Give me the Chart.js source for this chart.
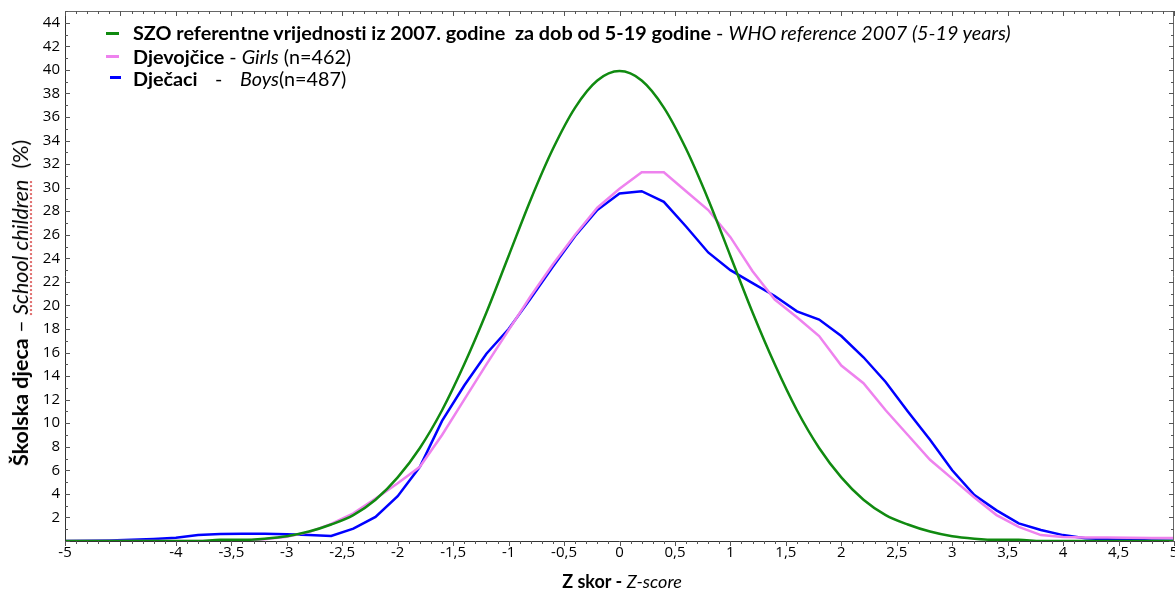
<!DOCTYPE html>
<html>
<head>
<meta charset="utf-8">
<script src="https://cdn.jsdelivr.net/npm/chart.js@4.4.1/dist/chart.umd.min.js"></script>
<style>
    body { margin: 0; background: #fff; }
    #wrap { position: relative; width: 1175px; height: 590px; }
    .txt { position: absolute; font-family: Lato, "Open Sans", sans-serif; font-size: 19.8px; color: #000; white-space: pre; line-height: 22px; font-variant-ligatures: none; }
    .sw { position: absolute; height: 3px; }
    .spell { text-decoration: underline dotted #e07070; text-underline-offset: 2px; }
</style>
</head>
<body>
<div id="wrap">
    <canvas id="zChart" width="1175" height="590"></canvas>

    <!-- legend -->
    <div class="sw" style="left:106px; top:32px; width:13px; background:#108a10;"></div>
    <div class="txt" style="left:133px; top:21px;"><b>SZO referentne vrijednosti iz 2007. godine  za dob od 5-19 godine</b> - <i>WHO reference 2007 (5-19 years)</i></div>
    <div class="sw" style="left:106px; top:55px; width:13px; background:#ee82ee;"></div>
    <div class="txt" style="left:133px; top:45px;"><b>Djevojčice</b> - <i>Girls</i> (n=462)</div>
    <div class="sw" style="left:110px; top:76px; width:11px; background:#0000ff;"></div>
    <div class="txt" style="left:133px; top:67px;"><b>Dječaci</b></div>
    <div class="txt" style="left:215px; top:67px;">-</div>
    <div class="txt" style="left:240px; top:67px;"><i>Boys</i>(n=487)</div>

    <!-- axis titles -->
    <div class="txt" style="left:20px; top:303px; font-size:21.5px; transform: translate(-50%, -50%) rotate(-90deg);"><b>Školska djeca</b> – <i class="spell">School children</i>  (%)</div>
    <div class="txt" style="left:622px; top:581px; font-size:18px; transform: translate(-50%, -50%);"><b>Z skor -</b> <i>Z-score</i></div>
</div>

<script>
// Z-score positions (every 0.2)
const zValues = [-5, -4.8, -4.6, -4.4, -4.2, -4, -3.8, -3.6, -3.4, -3.2,
    -3, -2.8, -2.6, -2.4, -2.2, -2, -1.8, -1.6, -1.4, -1.2,
    -1, -0.8, -0.6, -0.4, -0.2, 0, 0.2, 0.4, 0.6, 0.8,
    1, 1.2, 1.4, 1.6, 1.8, 2, 2.2, 2.4, 2.6, 2.8,
    3, 3.2, 3.4, 3.6, 3.8, 4, 4.2, 4.4, 4.6, 4.8, 5];

// WHO reference 2007 (%)
const whoRef = [0, 0, 0, 0, 0, 0, 0, 0.1, 0.1, 0.2,
    0.4, 0.8, 1.4, 2.2, 3.5, 5.4, 7.9, 11.1, 15.0, 19.4,
    24.2, 29.0, 33.3, 36.8, 39.1, 39.9, 39.1, 36.8, 33.3, 29.0,
    24.2, 19.4, 15.0, 11.1, 7.9, 5.4, 3.5, 2.2, 1.4, 0.8,
    0.4, 0.2, 0.1, 0.1, 0, 0, 0, 0, 0, 0, 0];

// Girls, n=462 (%)
const girls = [0, 0, 0, 0, 0, 0, 0, 0, 0.05, 0.15,
    0.37, 0.75, 1.45, 2.35, 3.6, 4.9, 6.3, 9.0, 12.0, 15.0,
    17.9, 20.8, 23.5, 26.0, 28.3, 29.9, 31.3, 31.3, 29.7, 28.1,
    25.8, 22.9, 20.5, 19.0, 17.4, 14.9, 13.4, 11.1, 9.0, 6.9,
    5.3, 3.7, 2.2, 1.2, 0.5, 0.35, 0.3, 0.3, 0.28, 0.25, 0.25];

// Boys, n=487 (%)
const boys = [0, 0.02, 0.05, 0.1, 0.17, 0.28, 0.5, 0.6, 0.62, 0.62,
    0.57, 0.5, 0.42, 1.05, 2.05, 3.8, 6.3, 10.2, 13.2, 15.9,
    18.0, 20.6, 23.3, 25.9, 28.1, 29.5, 29.7, 28.8, 26.7, 24.5,
    23.0, 21.9, 20.8, 19.5, 18.8, 17.4, 15.6, 13.5, 11.0, 8.6,
    6.0, 3.9, 2.6, 1.5, 0.93, 0.5, 0.23, 0.15, 0.1, 0.05, 0.03];

const hiddenXLabels = [-4.5];

function toPoints(vals) {
    return zValues.map((z, i) => ({ x: z, y: vals[i] }));
}

// frame with small tick marks on all four sides
const framePlugin = {
    id: 'frame',
    afterDraw(chart) {
        const ctx = chart.ctx;
        const a = chart.chartArea;
        const xs = chart.scales.x;
        const ys = chart.scales.y;
        ctx.save();
        ctx.lineWidth = 1;
        ctx.strokeStyle = '#333';
        ctx.beginPath();
        ctx.moveTo(a.left + 0.5, a.top + 0.5);
        ctx.lineTo(a.left + 0.5, a.bottom + 0.5);
        ctx.lineTo(a.right - 0.5, a.bottom + 0.5);
        ctx.stroke();
        ctx.strokeStyle = '#666';
        ctx.beginPath();
        ctx.moveTo(a.left + 0.5, a.top + 0.5);
        ctx.lineTo(a.right - 0.5, a.top + 0.5);
        ctx.lineTo(a.right - 0.5, a.bottom + 0.5);
        ctx.stroke();

        ctx.strokeStyle = '#555';
        ctx.beginPath();
        for (let i = -50; i <= 50; i++) {
            const px = Math.round(xs.getPixelForValue(i / 10)) + 0.5;
            const len = i % 5 === 0 ? 5 : 3;
            ctx.moveTo(px, a.bottom);
            ctx.lineTo(px, a.bottom + len);
            ctx.moveTo(px, a.top);
            ctx.lineTo(px, a.top + len);
        }
        for (let v = 0; v <= 45; v++) {
            const py = Math.round(ys.getPixelForValue(v)) + 0.5;
            const len = v % 2 === 0 ? 5 : 3;
            ctx.moveTo(a.left, py);
            ctx.lineTo(a.left + len, py);
            ctx.moveTo(a.right, py);
            ctx.lineTo(a.right - len, py);
        }
        ctx.stroke();
        ctx.restore();
    }
};

const tickFont = { family: "'Open Sans', sans-serif", size: 15 };

new Chart(document.getElementById('zChart').getContext('2d'), {
    type: 'line',
    data: {
        datasets: [{
            label: 'WHO reference 2007',
            data: toPoints(whoRef),
            borderColor: '#108a10',
            borderWidth: 2.5,
            pointRadius: 0,
            cubicInterpolationMode: 'monotone'
        }, {
            label: 'Girls',
            data: toPoints(girls),
            borderColor: '#ee82ee',
            borderWidth: 2.5,
            pointRadius: 0,
            tension: 0
        }, {
            label: 'Boys',
            data: toPoints(boys),
            borderColor: '#0000ff',
            borderWidth: 2.5,
            pointRadius: 0,
            tension: 0
        }]
    },
    options: {
        responsive: false,
        animation: false,
        devicePixelRatio: 1,
        layout: { padding: { top: 11, right: 1, left: 0, bottom: 0 } },
        plugins: {
            legend: { display: false },
            tooltip: { enabled: false }
        },
        scales: {
            x: {
                type: 'linear',
                min: -5,
                max: 5,
                grid: { display: false, drawTicks: false },
                border: { display: false },
                ticks: {
                    stepSize: 0.5,
                    autoSkip: false,
                    maxRotation: 0,
                    padding: 3,
                    color: '#000',
                    font: tickFont,
                    callback: v => hiddenXLabels.includes(v) ? '' : String(v).replace('.', ',')
                },
                afterFit: s => { s.height = 49; s.paddingLeft = 0; s.paddingRight = 0; }
            },
            y: {
                min: 0,
                max: 45,
                grid: { display: false, drawTicks: false },
                border: { display: false },
                ticks: {
                    stepSize: 2,
                    includeBounds: false,
                    padding: 5,
                    color: '#000',
                    font: tickFont,
                    callback: v => v === 0 ? '' : String(v)
                },
                afterFit: s => { s.width = 65; s.paddingTop = 0; s.paddingBottom = 0; }
            }
        }
    },
    plugins: [framePlugin]
});
</script>
</body>
</html>
